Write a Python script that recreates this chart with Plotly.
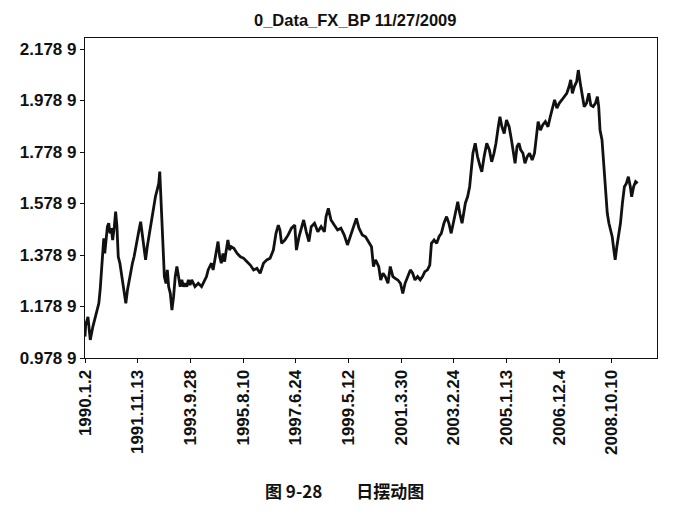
import plotly.graph_objects as go

# trading-day index (0 = 1990-01-02) and GBP rate
obs_day = [
    0, 6, 27, 48, 72, 102, 126, 138, 150, 162, 171, 180, 192, 204, 216, 228, 240, 252, 267, 279,
    291, 303, 318, 330, 342, 357, 372, 387, 402, 417, 432, 447, 462, 477, 492, 507, 522, 537, 552, 567,
    582, 597, 612, 627, 642, 657, 672, 681, 690, 702, 711, 723, 738, 750, 762, 777, 792, 807, 822, 837,
    852, 867, 882, 897, 912, 927, 942, 957, 972, 1002, 1032, 1062, 1092, 1107, 1122, 1137, 1152, 1167, 1182, 1197,
    1212, 1227, 1242, 1257, 1272, 1287, 1302, 1317, 1332,
    1356, 1386, 1416, 1446, 1476, 1506, 1536, 1566, 1596, 1626, 1656, 1686, 1716, 1740, 1761, 1776, 1791, 1821,
    1851, 1881, 1911, 1926, 1950, 1971, 1992, 2016, 2040, 2061, 2091, 2121, 2151, 2181, 2196, 2217, 2241, 2271,
    2301, 2331, 2361, 2391, 2421, 2451, 2472, 2496, 2526, 2556, 2586, 2610, 2628, 2646,
    2655, 2676, 2694, 2715, 2736, 2760, 2781, 2805, 2826, 2850, 2874, 2895, 2916, 2940, 2964, 2985, 3006, 3030,
    3054, 3075, 3096, 3120, 3141, 3156, 3180, 3204, 3225, 3246, 3270, 3294, 3315, 3336, 3360, 3384, 3396, 3414,
    3435, 3450, 3465, 3486, 3504, 3519, 3534, 3555, 3576, 3600, 3615, 3636, 3660, 3684, 3705, 3726, 3744, 3765,
    3780, 3798, 3819, 3840, 3864, 3885, 3906, 3918, 3936, 3954,
    3969, 3990, 4008, 4029, 4050, 4074, 4095, 4110, 4128, 4149, 4170, 4194, 4218, 4239, 4260, 4278, 4299, 4320,
    4344, 4368, 4389, 4410, 4425, 4440, 4458, 4479, 4494, 4512, 4530, 4548, 4569, 4590, 4608, 4629, 4650, 4668,
    4680, 4692, 4710, 4722, 4734, 4746, 4758, 4773, 4788, 4803, 4818, 4830, 4845, 4860, 4878, 4896, 4914, 4932,
    4950, 4968, 4980, 4998, 5016, 5034,
]
gbp_rate = [
    1.062, 1.107, 1.139, 1.049, 1.101, 1.152, 1.191, 1.243, 1.308, 1.385, 1.444, 1.385, 1.437, 1.489, 1.502, 1.463, 1.483, 1.437, 1.489, 1.547,
    1.489, 1.372, 1.347, 1.308, 1.269, 1.230, 1.191, 1.243, 1.282, 1.308, 1.347, 1.372, 1.411, 1.450, 1.476, 1.508, 1.450, 1.398, 1.360, 1.411,
    1.450, 1.489, 1.528, 1.580, 1.606, 1.631, 1.657, 1.703, 1.606, 1.463, 1.360, 1.295, 1.269, 1.321, 1.256, 1.230, 1.165, 1.217, 1.295, 1.334,
    1.295, 1.256, 1.282, 1.256, 1.269, 1.256, 1.282, 1.262, 1.282, 1.256, 1.269, 1.256, 1.282, 1.295, 1.321, 1.334, 1.347, 1.321, 1.360, 1.385,
    1.431, 1.372, 1.347, 1.385, 1.353, 1.398, 1.437, 1.398, 1.411,
    1.405, 1.385, 1.372, 1.366, 1.353, 1.340, 1.321, 1.327, 1.308, 1.347, 1.360, 1.366, 1.398, 1.463, 1.495, 1.476, 1.424, 1.437,
    1.457, 1.483, 1.495, 1.398, 1.450, 1.483, 1.515, 1.469, 1.431, 1.489, 1.502, 1.469, 1.489, 1.469, 1.528, 1.560, 1.515, 1.495,
    1.476, 1.483, 1.457, 1.418, 1.457, 1.502, 1.521, 1.483, 1.457, 1.450, 1.431, 1.411, 1.334, 1.360,
    1.353, 1.334, 1.282, 1.308, 1.295, 1.269, 1.334, 1.295, 1.288, 1.282, 1.269, 1.230, 1.269, 1.295, 1.321, 1.308, 1.282, 1.295,
    1.282, 1.295, 1.314, 1.321, 1.340, 1.424, 1.437, 1.424, 1.450, 1.463, 1.502, 1.528, 1.502, 1.463, 1.515, 1.554, 1.586, 1.541,
    1.502, 1.541, 1.580, 1.606, 1.644, 1.709, 1.774, 1.813, 1.761, 1.722, 1.702, 1.761, 1.813, 1.787, 1.741, 1.774, 1.813, 1.877,
    1.916, 1.877, 1.851, 1.903, 1.877, 1.826, 1.774, 1.735, 1.800, 1.813,
    1.787, 1.774, 1.735, 1.761, 1.774, 1.748, 1.774, 1.838, 1.897, 1.864, 1.884, 1.897, 1.877, 1.916, 1.955, 1.981, 1.949, 1.968,
    1.981, 1.994, 2.007, 2.033, 2.059, 2.007, 2.033, 2.052, 2.097, 2.046, 1.994, 1.955, 1.968, 2.007, 1.961, 1.955, 1.968, 1.994,
    1.955, 1.864, 1.826, 1.761, 1.683, 1.605, 1.541, 1.502, 1.476, 1.450, 1.398, 1.360, 1.411, 1.450, 1.502, 1.580, 1.644, 1.657,
    1.683, 1.644, 1.605, 1.644, 1.664, 1.657,
]

x_tick_pos = [0, 480, 960, 1440, 1920, 2400, 2880, 3360, 3840, 4320, 4800]
x_tick_text = ["1990.1.2", "1991.11.13", "1993.9.28", "1995.8.10", "1997.6.24", "1999.5.12",
               "2001.3.30", "2003.2.24", "2005.1.13", "2006.12.4", "2008.10.10"]
y_tick_pos = [0.9789, 1.1789, 1.3789, 1.5789, 1.7789, 1.9789, 2.1789]
y_tick_text = ["0.978 9", "1.178 9", "1.378 9", "1.578 9", "1.778 9", "1.978 9", "2.178 9"]

fig = go.Figure()
fig.add_trace(go.Scatter(x=obs_day, y=gbp_rate, mode="lines",
                         line=dict(color="#111111", width=2.8), showlegend=False))

tick_font = dict(family="Liberation Sans, Arial", size=17, color="#111111", weight="bold")

fig.update_xaxes(range=[0, 5211], tickmode="array", tickvals=x_tick_pos, ticktext=x_tick_text,
                 tickangle=-90, tickfont=tick_font, ticks="outside", ticklen=4, tickcolor="#111111",
                 showline=True, linecolor="#111111", linewidth=1.2, mirror=True,
                 showgrid=False, zeroline=False)
fig.update_yaxes(range=[0.9789, 2.2216], tickmode="array", tickvals=y_tick_pos, ticktext=y_tick_text,
                 tickfont=tick_font, ticks="outside", ticklen=4, tickcolor="#111111",
                 showline=True, linecolor="#111111", linewidth=1.2, mirror=True,
                 showgrid=False, zeroline=False)

fig.add_annotation(text="0_Data_FX_BP 11/27/2009", xref="paper", yref="paper",
                   x=0.4715, y=1.056, yanchor="middle", showarrow=False,
                   font=dict(family="Liberation Sans, Arial", size=16.5, color="#111111", weight="bold"))
fig.add_annotation(text="图 9-28　　日摆动图", xref="paper", yref="paper",
                   x=0.454, y=-0.4125, yanchor="middle", showarrow=False,
                   font=dict(family="Noto Sans CJK SC", size=17, color="#111111", weight="bold"))

# body margin of the page shifts the plot by ~8px, so margins are trimmed to compensate
fig.update_layout(width=682, height=520, margin=dict(l=70, r=33, t=30, b=170),
                  paper_bgcolor="white", plot_bgcolor="white")

fig.write_html("out.html")
